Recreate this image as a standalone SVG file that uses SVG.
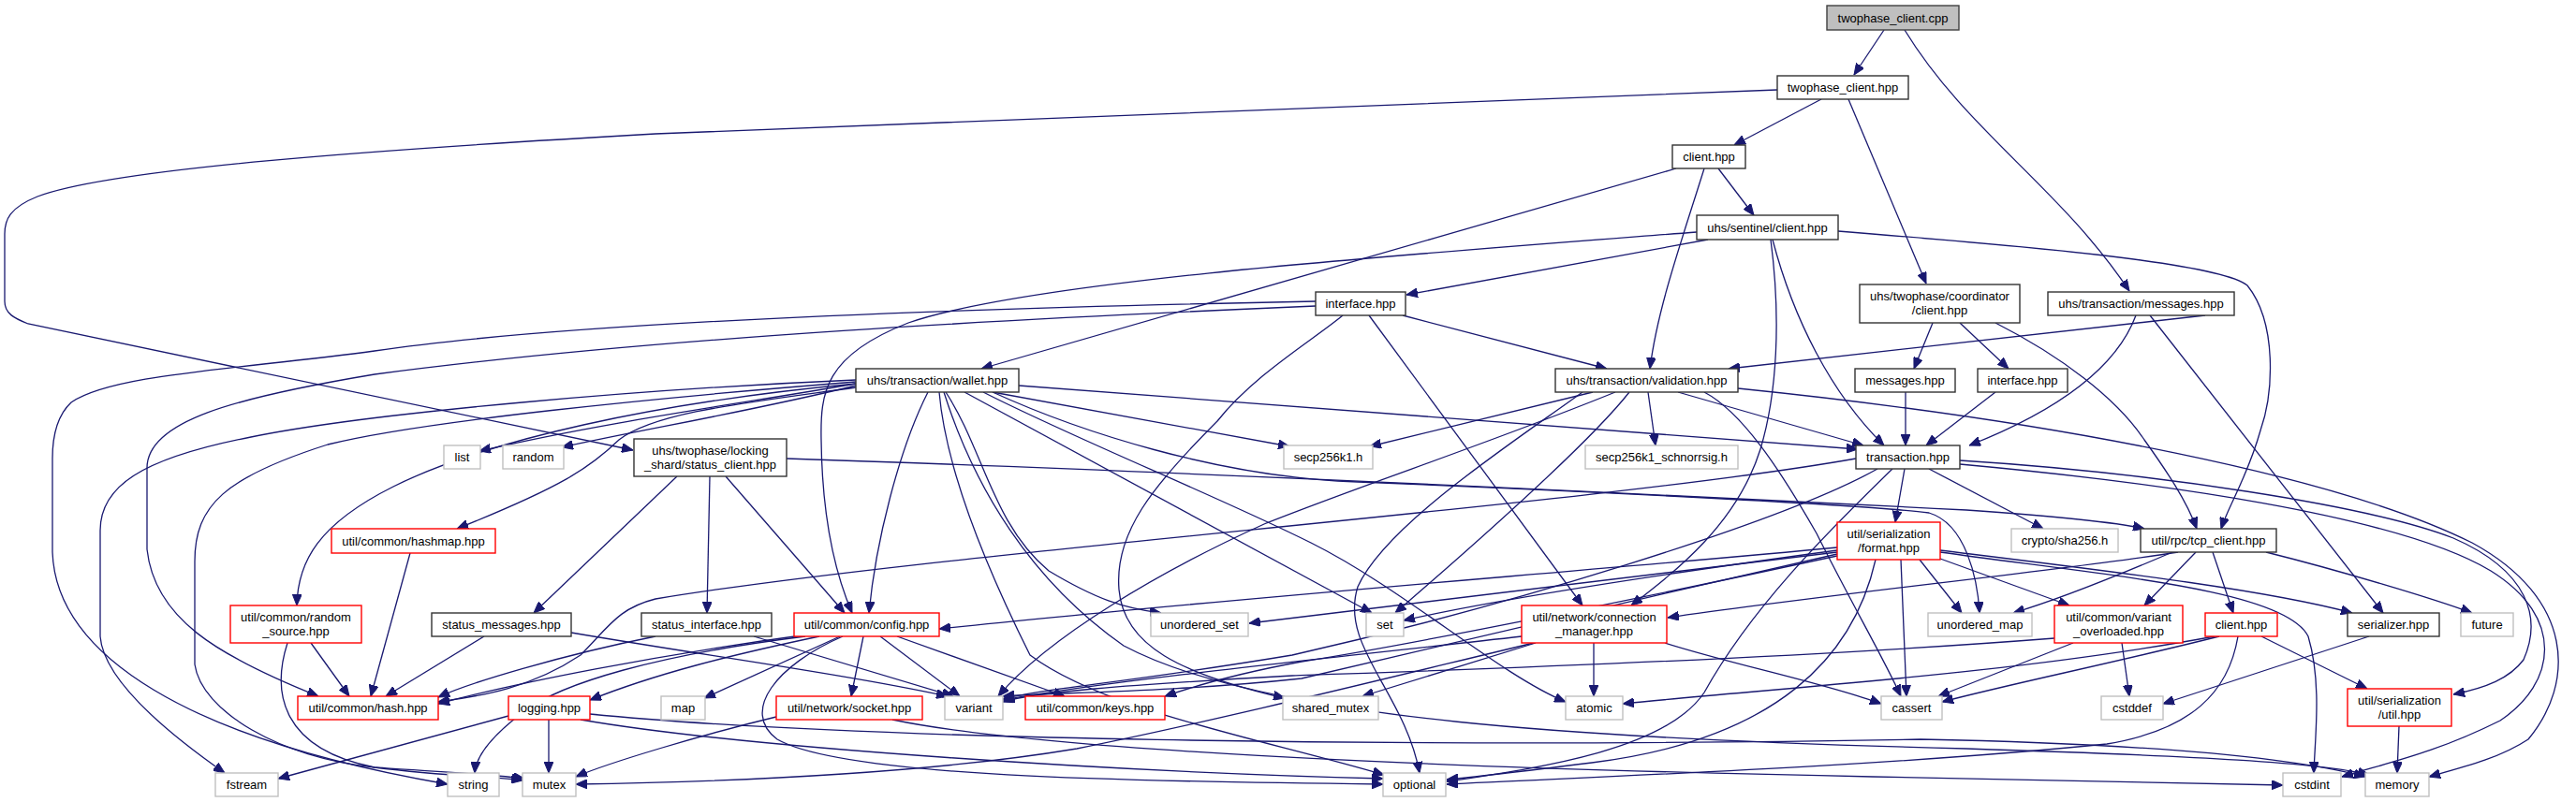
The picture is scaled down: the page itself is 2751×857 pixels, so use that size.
<svg xmlns="http://www.w3.org/2000/svg" width="2751" height="857" viewBox="0 0 2751 857">
<defs>
<style>
.e path{fill:none;stroke:#191970;stroke-width:1.3;marker-end:url(#a)}
.n rect{fill:#fff;stroke-width:1.4}
.k rect{stroke:#333}
.r rect{stroke:#ff0000}
.g rect{stroke:#c0c0c0}
.m rect{fill:#bfbfbf;stroke:#404040}
text{font-family:"Liberation Sans",Arial,Helvetica,sans-serif;font-size:13px;text-anchor:middle;fill:#000}
</style>
<marker id="a" viewBox="0 0 12 10" refX="12" refY="5" markerWidth="12" markerHeight="10" markerUnits="userSpaceOnUse" orient="auto">
<path d="M0,0 L12,5 L0,10 z" fill="#191970" stroke="#191970" stroke-width="1"/>
</marker>
</defs>
<rect width="2751" height="857" fill="#fff"/>
<g id="connectors" class="e">
<path d="M2012,32 L1980,80"/>
<path d="M2034,32 C2100,140 2200,200 2274,311"/>
<path d="M1945,106 L1852,155"/>
<path d="M1974,106 L2057,303"/>
<path d="M1898,96 L700,143 C400,160 120,180 40,210 C10,222 5,235 5,250 L5,322 C5,335 15,340 30,346 L676,481"/>
<path d="M1790,180 L1048,394"/>
<path d="M1820,180 C1795,260 1770,330 1762,394"/>
<path d="M1835,180 L1873,230"/>
<path d="M1824,256 L1502,315"/>
<path d="M1812,248 C1500,272 1100,300 970,345 C880,380 876,420 877,470 C878,560 895,620 910,655"/>
<path d="M1893,256 C1915,340 1955,420 2012,476"/>
<path d="M1891,256 C1902,340 1898,420 1880,480 C1855,560 1790,610 1742,647"/>
<path d="M1963,247 C2150,262 2370,280 2400,305 C2432,345 2428,420 2414,460 C2400,510 2380,540 2372,565"/>
<path d="M1498,337 L1716,394"/>
<path d="M1462,337 L1690,647"/>
<path d="M1405,327 C1100,340 700,360 400,400 C250,425 157,450 157,500 L157,587 C165,660 230,700 340,744"/>
<path d="M1405,322 C1000,330 600,345 400,375 C250,395 120,400 76,430 C60,445 56,470 56,490 L56,590 C60,700 200,790 478,838"/>
<path d="M1434,337 C1400,365 1340,400 1300,450 C1230,520 1190,570 1195,630 C1200,690 1260,720 1372,746"/>
<path d="M2064,345 L2044,394"/>
<path d="M2093,345 L2145,394"/>
<path d="M2131,345 C2200,380 2260,425 2290,470 C2315,505 2335,535 2346,565"/>
<path d="M2355,337 L1846,394"/>
<path d="M2281,337 C2265,380 2220,430 2103,476"/>
<path d="M2296,337 L2545,655"/>
<path d="M2035,419 L2035,476"/>
<path d="M2131,419 L2057,476"/>
<path d="M1701,419 L1463,477"/>
<path d="M1760,419 L1768,476"/>
<path d="M1792,419 L1990,476"/>
<path d="M1740,419 C1700,470 1600,560 1490,655"/>
<path d="M1725,419 C1600,470 1450,520 1350,560 C1240,610 1120,680 1066,744"/>
<path d="M1690,419 C1620,470 1480,560 1450,627 C1430,690 1500,740 1516,826"/>
<path d="M1856,415 C2200,450 2500,510 2640,580 C2750,640 2750,730 2700,790 C2670,810 2630,820 2594,830"/>
<path d="M1820,419 C1860,440 1900,500 1940,570 C1980,650 2010,700 2030,744"/>
<path d="M2034,501 L2024,558"/>
<path d="M2060,501 L2182,565"/>
<path d="M2093,492 C2300,505 2530,540 2620,575 C2700,610 2715,660 2695,705 C2680,725 2655,735 2620,742"/>
<path d="M2093,496 C2300,515 2560,550 2660,610 C2740,660 2730,730 2670,770 C2600,805 2550,815 2501,830"/>
<path d="M1982,490 C1700,540 1000,590 700,640 C660,650 650,670 620,700 C560,740 500,745 468,750"/>
<path d="M2005,501 C1900,560 1600,650 1380,700 C1200,730 1110,736 1071,747"/>
<path d="M2021,501 C1950,570 1870,650 1820,740 C1780,800 1650,820 1545,835"/>
<path d="M1962,585 C1700,610 1300,640 1003,672"/>
<path d="M1962,588 C1800,610 1600,640 1499,663"/>
<path d="M1962,590 C1700,620 1450,650 1334,666"/>
<path d="M1962,592 C1750,640 1450,710 1390,725 C1250,740 1120,740 1071,744"/>
<path d="M1962,594 C1750,640 1500,690 1390,707 C1320,720 1270,735 1244,744"/>
<path d="M2050,598 L2095,655"/>
<path d="M2072,597 L2210,647"/>
<path d="M2072,588 C2250,610 2420,630 2512,655"/>
<path d="M2030,598 L2036,744"/>
<path d="M2072,590 C2250,615 2440,630 2465,680 C2480,730 2472,790 2471,826"/>
<path d="M2003,598 C1980,700 1900,790 1700,815 C1620,825 1580,830 1545,833"/>
<path d="M2326,590 C2200,610 1950,635 1781,660"/>
<path d="M2320,590 C2250,620 2200,640 2150,655"/>
<path d="M2345,590 L2290,647"/>
<path d="M2363,590 L2385,655"/>
<path d="M2420,590 C2500,610 2600,640 2640,655"/>
<path d="M2214,687 L2070,744"/>
<path d="M2266,687 L2274,744"/>
<path d="M2194,682 C1900,705 1500,718 1380,722 C1200,732 1100,740 1071,750"/>
<path d="M2370,680 C2250,710 2150,730 2074,750"/>
<path d="M2365,680 C2150,720 1900,735 1733,752"/>
<path d="M2415,680 L2528,736"/>
<path d="M2390,680 C2380,740 2340,780 2250,795 C2000,820 1700,830 1545,838"/>
<path d="M2530,680 L2310,752"/>
<path d="M2562,776 L2560,826"/>
<path d="M1702,687 L1702,744"/>
<path d="M1778,687 C1850,710 1950,730 2009,752"/>
<path d="M1640,687 L1455,744"/>
<path d="M1638,687 C1500,720 1300,770 1150,800 C1000,825 800,835 615,838"/>
<path d="M1625,680 C1450,700 1200,725 1071,748"/>
<path d="M897,680 L752,746"/>
<path d="M922,680 L909,744"/>
<path d="M940,680 L1025,744"/>
<path d="M958,680 L1137,744"/>
<path d="M875,680 C780,700 700,720 630,748"/>
<path d="M870,677 C700,700 550,730 468,752"/>
<path d="M860,680 C700,700 600,730 560,760 C520,790 508,810 507,826"/>
<path d="M900,680 C830,710 790,760 830,790 C900,830 1200,835 1477,838"/>
<path d="M953,769 C1100,800 1500,820 2000,830 C2300,836 2400,838 2438,839"/>
<path d="M829,766 C750,785 650,815 615,830"/>
<path d="M543,765 L297,832"/>
<path d="M586,769 L586,826"/>
<path d="M620,769 C800,800 1200,825 1477,832"/>
<path d="M630,763 C900,790 1500,800 2051,790 C2300,795 2450,810 2526,830"/>
<path d="M723,509 L570,655"/>
<path d="M758,509 L755,655"/>
<path d="M775,509 L902,655"/>
<path d="M840,490 C1300,505 1900,535 2100,545 C2200,552 2260,558 2290,565"/>
<path d="M517,680 L412,744"/>
<path d="M610,676 C750,700 900,720 1012,744"/>
<path d="M700,680 C600,700 500,730 468,745"/>
<path d="M805,680 L1018,744"/>
<path d="M332,687 L373,744"/>
<path d="M307,687 C290,740 300,800 400,820 C480,830 530,830 558,834"/>
<path d="M438,591 L396,744"/>
<path d="M914,410 C800,430 650,450 512,482"/>
<path d="M914,412 C800,440 680,460 600,478"/>
<path d="M914,414 C800,430 700,440 661,470 C630,500 600,520 488,565"/>
<path d="M914,410 C700,430 520,470 420,520 C340,560 318,600 317,647"/>
<path d="M914,406 C700,415 400,440 268,467 C150,490 107,520 107,567 L107,680 C110,720 160,770 240,826"/>
<path d="M914,408 C700,425 450,450 350,475 C240,510 208,540 208,600 L208,710 C215,760 300,810 400,820 C480,825 530,828 560,832"/>
<path d="M991,419 C960,480 935,580 928,655"/>
<path d="M1060,419 L1377,477"/>
<path d="M1088,412 L1984,480"/>
<path d="M1010,419 C1050,480 1060,560 1120,610 C1170,640 1200,650 1240,655"/>
<path d="M1030,419 L1465,655"/>
<path d="M1050,419 C1150,470 1300,530 1400,580 C1500,630 1600,720 1672,750"/>
<path d="M1060,419 C1150,460 1300,510 1450,515 C1700,525 2000,540 2060,548 C2100,560 2112,620 2114,655"/>
<path d="M1003,419 C1010,500 1050,600 1100,700 C1180,760 1350,790 1478,828"/>
<path d="M1008,419 C1040,520 1100,620 1200,690 C1350,770 1700,790 2100,800 C2350,808 2480,815 2530,828"/>
</g>
<g id="n0" class="n m"><rect x="1951" y="6" width="141" height="26"/><text x="2021.5" y="23.5">twophase_client.cpp</text></g>
<g id="n1" class="n k"><rect x="1898" y="81" width="140" height="25"/><text x="1968" y="98">twophase_client.hpp</text></g>
<g id="n2" class="n k"><rect x="1786" y="155" width="78" height="25"/><text x="1825" y="172">client.hpp</text></g>
<g id="n3" class="n k"><rect x="1812" y="230" width="151" height="26"/><text x="1887.5" y="247.5">uhs/sentinel/client.hpp</text></g>
<g id="n4" class="n k"><rect x="1405" y="312" width="96" height="25"/><text x="1453" y="329">interface.hpp</text></g>
<g id="n5" class="n k"><rect x="1986" y="304" width="171" height="41"/><text x="2071.5" y="321">uhs/twophase/coordinator</text><text x="2071.5" y="335.5">/client.hpp</text></g>
<g id="n6" class="n k"><rect x="2187" y="312" width="199" height="25"/><text x="2286.5" y="329">uhs/transaction/messages.hpp</text></g>
<g id="n7" class="n k"><rect x="914" y="394" width="174" height="25"/><text x="1001" y="411">uhs/transaction/wallet.hpp</text></g>
<g id="n8" class="n k"><rect x="1661" y="394" width="195" height="25"/><text x="1758.5" y="411">uhs/transaction/validation.hpp</text></g>
<g id="n9" class="n k"><rect x="1981" y="394" width="107" height="25"/><text x="2034.5" y="411">messages.hpp</text></g>
<g id="n10" class="n k"><rect x="2112" y="394" width="96" height="25"/><text x="2160" y="411">interface.hpp</text></g>
<g id="n11" class="n g"><rect x="474" y="476" width="39" height="25"/><text x="493.5" y="493">list</text></g>
<g id="n12" class="n g"><rect x="537" y="476" width="65" height="25"/><text x="569.5" y="493">random</text></g>
<g id="n13" class="n k"><rect x="677" y="469" width="163" height="40"/><text x="758.5" y="486">uhs/twophase/locking</text><text x="758.5" y="500.5">_shard/status_client.hpp</text></g>
<g id="n14" class="n g"><rect x="1371" y="476" width="95" height="25"/><text x="1418.5" y="493">secp256k1.h</text></g>
<g id="n15" class="n g"><rect x="1693" y="476" width="163" height="25"/><text x="1774.5" y="493">secp256k1_schnorrsig.h</text></g>
<g id="n16" class="n k"><rect x="1982" y="476" width="111" height="25"/><text x="2037.5" y="493">transaction.hpp</text></g>
<g id="n17" class="n r"><rect x="354" y="565" width="175" height="26"/><text x="441.5" y="582.5">util/common/hashmap.hpp</text></g>
<g id="n18" class="n r"><rect x="1962" y="558" width="110" height="40"/><text x="2017" y="575">util/serialization</text><text x="2017" y="589.5">/format.hpp</text></g>
<g id="n19" class="n g"><rect x="2148" y="565" width="114" height="25"/><text x="2205" y="582">crypto/sha256.h</text></g>
<g id="n20" class="n k"><rect x="2286" y="565" width="145" height="25"/><text x="2358.5" y="582">util/rpc/tcp_client.hpp</text></g>
<g id="n21" class="n r"><rect x="246" y="647" width="140" height="40"/><text x="316" y="664">util/common/random</text><text x="316" y="678.5">_source.hpp</text></g>
<g id="n22" class="n k"><rect x="461" y="655" width="149" height="25"/><text x="535.5" y="672">status_messages.hpp</text></g>
<g id="n23" class="n k"><rect x="685" y="655" width="139" height="25"/><text x="754.5" y="672">status_interface.hpp</text></g>
<g id="n24" class="n r"><rect x="848" y="655" width="155" height="25"/><text x="925.5" y="672">util/common/config.hpp</text></g>
<g id="n25" class="n g"><rect x="1229" y="655" width="104" height="25"/><text x="1281" y="672">unordered_set</text></g>
<g id="n26" class="n g"><rect x="1459" y="655" width="40" height="25"/><text x="1479" y="672">set</text></g>
<g id="n27" class="n r"><rect x="1625" y="647" width="155" height="40"/><text x="1702.5" y="664">util/network/connection</text><text x="1702.5" y="678.5">_manager.hpp</text></g>
<g id="n28" class="n g"><rect x="2059" y="655" width="111" height="25"/><text x="2114.5" y="672">unordered_map</text></g>
<g id="n29" class="n r"><rect x="2194" y="647" width="137" height="40"/><text x="2262.5" y="664">util/common/variant</text><text x="2262.5" y="678.5">_overloaded.hpp</text></g>
<g id="n30" class="n r"><rect x="2355" y="655" width="77" height="25"/><text x="2393.5" y="672">client.hpp</text></g>
<g id="n31" class="n k"><rect x="2507" y="655" width="98" height="25"/><text x="2556" y="672">serializer.hpp</text></g>
<g id="n32" class="n g"><rect x="2628" y="655" width="56" height="25"/><text x="2656" y="672">future</text></g>
<g id="n33" class="n r"><rect x="318" y="744" width="150" height="25"/><text x="393" y="761">util/common/hash.hpp</text></g>
<g id="n34" class="n r"><rect x="543" y="744" width="87" height="25"/><text x="586.5" y="761">logging.hpp</text></g>
<g id="n35" class="n g"><rect x="706" y="744" width="47" height="25"/><text x="729.5" y="761">map</text></g>
<g id="n36" class="n r"><rect x="829" y="744" width="156" height="25"/><text x="907" y="761">util/network/socket.hpp</text></g>
<g id="n37" class="n g"><rect x="1009" y="744" width="62" height="25"/><text x="1040" y="761">variant</text></g>
<g id="n38" class="n r"><rect x="1095" y="744" width="149" height="25"/><text x="1169.5" y="761">util/common/keys.hpp</text></g>
<g id="n39" class="n g"><rect x="1370" y="744" width="102" height="25"/><text x="1421" y="761">shared_mutex</text></g>
<g id="n40" class="n g"><rect x="1672" y="744" width="61" height="25"/><text x="1702.5" y="761">atomic</text></g>
<g id="n41" class="n g"><rect x="2009" y="744" width="65" height="25"/><text x="2041.5" y="761">cassert</text></g>
<g id="n42" class="n g"><rect x="2244" y="744" width="66" height="25"/><text x="2277" y="761">cstddef</text></g>
<g id="n43" class="n r"><rect x="2507" y="736" width="111" height="40"/><text x="2562.5" y="753">util/serialization</text><text x="2562.5" y="767.5">/util.hpp</text></g>
<g id="n44" class="n g"><rect x="230" y="826" width="67" height="25"/><text x="263.5" y="843">fstream</text></g>
<g id="n45" class="n g"><rect x="478" y="826" width="55" height="25"/><text x="505.5" y="843">string</text></g>
<g id="n46" class="n g"><rect x="558" y="826" width="57" height="25"/><text x="586.5" y="843">mutex</text></g>
<g id="n47" class="n g"><rect x="1477" y="826" width="67" height="25"/><text x="1510.5" y="843">optional</text></g>
<g id="n48" class="n g"><rect x="2438" y="826" width="62" height="25"/><text x="2469" y="843">cstdint</text></g>
<g id="n49" class="n g"><rect x="2526" y="826" width="68" height="25"/><text x="2560" y="843">memory</text></g>
</svg>
